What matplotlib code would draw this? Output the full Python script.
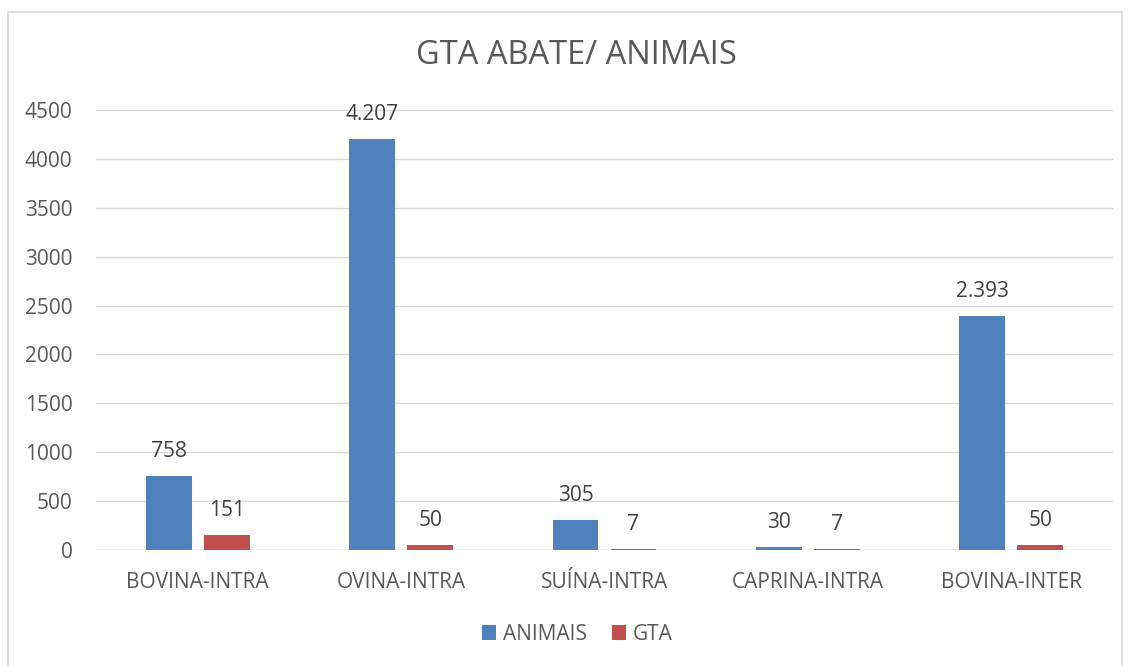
import matplotlib
matplotlib.use("Agg")
import matplotlib.pyplot as plt
from matplotlib.patches import Rectangle
import numpy as np

categories = ["BOVINA-INTRA", "OVINA-INTRA", "SUÍNA-INTRA", "CAPRINA-INTRA", "BOVINA-INTER"]
animais = [758, 4207, 305, 30, 2393]
gta = [151, 50, 7, 7, 50]
series_names = ["ANIMAIS", "GTA"]
yticks = [0, 500, 1000, 1500, 2000, 2500, 3000, 3500, 4000, 4500]
title = "GTA ABATE/ ANIMAIS"

plt.rcParams['font.family'] = ['Open Sans', 'DejaVu Sans']
txt = "#595959"
blue = "#4f81bd"
red = "#c0504d"

W, H = 1131, 666
fig = plt.figure(figsize=(W/100, H/100), dpi=100)
fig.patches.append(Rectangle((8/W, -0.1), (1122-8)/W, (H-12)/H + 0.1, transform=fig.transFigure,
                             fill=False, edgecolor="#d9d9d9", linewidth=1.2))

ax = fig.add_axes([96/W, (H-550)/H, (1113-96)/W, (550-110)/H])
x = np.arange(len(categories))
bw = 0.226
off = 0.1425
b1 = ax.bar(x - off, animais, bw, color=blue, label=series_names[0], zorder=3)
b2 = ax.bar(x + off, gta, bw, color=red, label=series_names[1], zorder=3)

def fmt(v):
    return f"{v:,}".replace(",", ".")

for bars, vals in ((b1, animais), (b2, gta)):
    for r, v in zip(bars, vals):
        ax.annotate(fmt(v), (r.get_x() + r.get_width()/2, r.get_height()),
                    xytext=(0, 10), textcoords="offset points", ha="center", va="bottom",
                    fontsize=15, color="#404040")

ax.set_xlim(-0.5, len(categories) - 0.5)
ax.set_ylim(0, 4500)
ax.set_yticks(yticks)
ax.set_yticklabels([str(t) for t in yticks])
ax.set_xticks(x)
ax.set_xticklabels(categories)
ax.tick_params(axis="both", length=0, labelsize=15, colors=txt)
ax.tick_params(axis="x", pad=16)
ax.tick_params(axis="y", pad=17)
ax.grid(axis="y", color="#d9d9d9", linewidth=1, zorder=0)
for s in ax.spines.values():
    s.set_visible(False)
ax.axhline(0, color="#d9d9d9", linewidth=1, zorder=2)

fig.text(576/W, 1 - 55/H, title, ha="center", va="center", fontsize=23.5, color=txt)
fig.legend(handles=[b1, b2], labels=series_names, loc="center", bbox_to_anchor=(577/W, 1 - 634/H),
           ncol=2, frameon=False, fontsize=15, labelcolor=txt, handlelength=0.7, handleheight=0.7,
           handletextpad=0.3, columnspacing=1.2)

fig.savefig("out.png", dpi=100, facecolor="white")
